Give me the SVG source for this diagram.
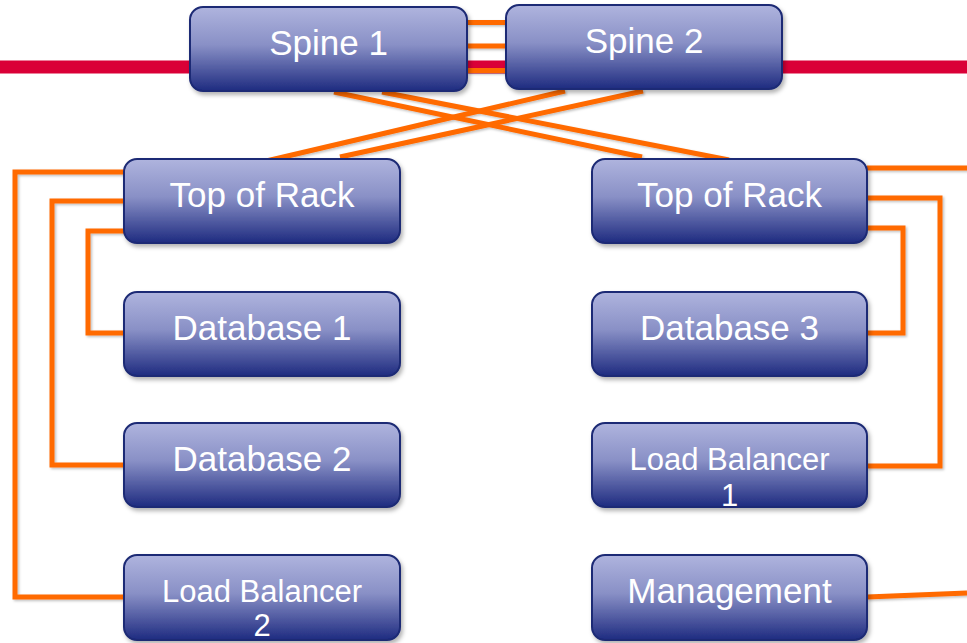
<svg xmlns="http://www.w3.org/2000/svg" width="967" height="643" viewBox="0 0 967 643">
  <defs>
    <linearGradient id="boxFill" x1="0" y1="0" x2="0" y2="1">
      <stop offset="0" stop-color="#AFB4DE"/>
      <stop offset="0.45" stop-color="#8990C6"/>
      <stop offset="1" stop-color="#1E2B80"/>
    </linearGradient>
    <filter id="boxShadow" x="-10%" y="-10%" width="125%" height="130%">
      <feDropShadow dx="2" dy="3" stdDeviation="2" flood-color="#000" flood-opacity="0.3"/>
    </filter>
    <filter id="lineShadow" x="-5%" y="-5%" width="110%" height="110%">
      <feDropShadow dx="1.5" dy="1.5" stdDeviation="1" flood-color="#000" flood-opacity="0.25"/>
    </filter>
  </defs>
  <style>
    .box { fill: url(#boxFill); stroke: #1C2A74; stroke-width: 2; filter: url(#boxShadow); }
    .lbl { fill: #FFFFFF; font-family: "Liberation Sans", Arial, sans-serif; font-size: 35px; text-anchor: middle; }
    .lbl.sm { font-size: 31px; }
    .link { fill: none; stroke: #FF6A00; stroke-width: 5; stroke-linejoin: miter; stroke-linecap: butt; }
  </style>

  <rect width="967" height="643" fill="#FFFFFF"/>

  <!-- backbone bar -->
  <rect id="backbone" x="0" y="60.5" width="967" height="13" fill="#DA0037"/>

  <g id="connectors" filter="url(#lineShadow)">
    <!-- spine interlinks -->
    <path class="link" d="M467 22.5 H506 M467 46 H506 M467 70.5 H506"/>
    <!-- spine to top of rack -->
    <path class="link" d="M334 92 L642 157"/>
    <path class="link" d="M382 92 L729 160"/>
    <path class="link" d="M565 91 L262 162"/>
    <path class="link" d="M643 91 L340 157"/>
    <!-- left rack -->
    <path class="link" d="M124 172 H15 V597 H124"/>
    <path class="link" d="M124 201 H52 V465 H124"/>
    <path class="link" d="M124 231 H88 V333 H124"/>
    <!-- right rack -->
    <path class="link" d="M867 168 H967"/>
    <path class="link" d="M867 198 H940 V466 H867"/>
    <path class="link" d="M867 228 H903 V333 H867"/>
    <path class="link" d="M867 597 L967 593"/>
  </g>

  <g id="spine1">
    <rect class="box" x="190" y="7" width="277" height="84" rx="13"/>
    <text class="lbl" x="328.5" y="55">Spine 1</text>
  </g>
  <g id="spine2">
    <rect class="box" x="506" y="5" width="276" height="84" rx="13"/>
    <text class="lbl" x="644" y="53">Spine 2</text>
  </g>

  <g id="tor-left">
    <rect class="box" x="124" y="159" width="276" height="84" rx="13"/>
    <text class="lbl" x="262" y="207">Top of Rack</text>
  </g>
  <g id="database1">
    <rect class="box" x="124" y="292" width="276" height="84" rx="13"/>
    <text class="lbl" x="262" y="340">Database 1</text>
  </g>
  <g id="database2">
    <rect class="box" x="124" y="423" width="276" height="84" rx="13"/>
    <text class="lbl" x="262" y="471">Database 2</text>
  </g>
  <g id="loadbalancer2">
    <rect class="box" x="124" y="555" width="276" height="85" rx="13"/>
    <text class="lbl sm" x="262" y="602">Load Balancer</text>
    <text class="lbl sm" x="262" y="636">2</text>
  </g>

  <g id="tor-right">
    <rect class="box" x="592" y="159" width="275" height="84" rx="13"/>
    <text class="lbl" x="729.5" y="207">Top of Rack</text>
  </g>
  <g id="database3">
    <rect class="box" x="592" y="292" width="275" height="84" rx="13"/>
    <text class="lbl" x="729.5" y="340">Database 3</text>
  </g>
  <g id="loadbalancer1">
    <rect class="box" x="592" y="423" width="275" height="84" rx="13"/>
    <text class="lbl sm" x="729.5" y="470">Load Balancer</text>
    <text class="lbl sm" x="729.5" y="506">1</text>
  </g>
  <g id="management">
    <rect class="box" x="592" y="555" width="275" height="85" rx="13"/>
    <text class="lbl" x="729.5" y="603">Management</text>
  </g>
</svg>
